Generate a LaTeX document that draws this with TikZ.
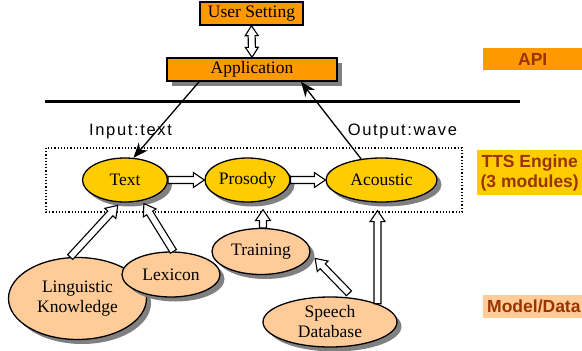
\documentclass[tikz,border=0pt]{standalone}
\usepackage{fontspec}
\setmainfont{Liberation Serif}
\setsansfont{Liberation Sans}
\newfontfamily\widesans[LetterSpace=10]{Liberation Sans}
\usetikzlibrary{calc,shapes.geometric,shadows,arrows.meta}
\definecolor{orng}{HTML}{FF9900}
\definecolor{yelw}{HTML}{FFCC00}
\definecolor{peach}{HTML}{FFCC99}
\definecolor{brwn}{HTML}{993300}
% hollow block arrow from #1 to #2
\newcommand\blockarrow[2]{%
  \draw[barrow] let \p1=(#1), \p2=(#2), \n1={atan2(\y2-\y1,\x2-\x1)} in
    ($(\p1)+(\n1+90:3.5pt)$) --
    ($(\p2)+(\n1:-11pt)+(\n1+90:3.5pt)$) --
    ($(\p2)+(\n1:-11pt)+(\n1+90:7.5pt)$) --
    (\p2) --
    ($(\p2)+(\n1:-11pt)+(\n1-90:7.5pt)$) --
    ($(\p2)+(\n1:-11pt)+(\n1-90:3.5pt)$) --
    ($(\p1)+(\n1-90:3.5pt)$) -- cycle;}
% double-headed hollow block arrow
\newcommand\dblockarrow[2]{%
  \draw[barrow] let \p1=(#1), \p2=(#2), \n1={atan2(\y2-\y1,\x2-\x1)} in
    (\p1) --
    ($(\p1)+(\n1:10pt)+(\n1+90:6.5pt)$) --
    ($(\p1)+(\n1:10pt)+(\n1+90:3.5pt)$) --
    ($(\p2)+(\n1:-10pt)+(\n1+90:3.5pt)$) --
    ($(\p2)+(\n1:-10pt)+(\n1+90:6.5pt)$) --
    (\p2) --
    ($(\p2)+(\n1:-10pt)+(\n1-90:6.5pt)$) --
    ($(\p2)+(\n1:-10pt)+(\n1-90:3.5pt)$) --
    ($(\p1)+(\n1:10pt)+(\n1-90:3.5pt)$) --
    ($(\p1)+(\n1:10pt)+(\n1-90:6.5pt)$) -- cycle;}
\tikzset{
  shadowed/.style={drop shadow={shadow xshift=4.5pt, shadow yshift=-4.5pt, fill=black!50, opacity=1}},
  serif17/.style={font=\fontsize{17.5}{20}\selectfont},
  box/.style={rectangle, draw, line width=1.4pt, fill=orng, inner sep=0pt, serif17},
  ell/.style={ellipse, draw, line width=1.3pt, inner sep=0pt, shadowed, serif17, align=center},
  core/.style={ell, fill=yelw},
  model/.style={ell, fill=peach},
  barrow/.style={draw=black, fill=white, line width=1.1pt, line join=miter},
  arr/.style={line width=1.3pt, -{Stealth[length=15pt,width=12pt]}},
  lab/.style={text=brwn, font=\sffamily\bfseries\fontsize{17.5}{20}\selectfont, align=center, inner sep=0pt},
  io/.style={font=\widesans\fontsize{16.5}{19}\selectfont, anchor=base}
}
\begin{document}
\begin{tikzpicture}[x=1pt,y=-1pt]
\useasboundingbox (0,0) rectangle (582,351);

% API layer
\node[box, minimum width=103, minimum height=23] (us) at (251.5,13.5) {User Setting};
\node[box, shadowed, minimum width=170, minimum height=23] (app) at (252,69.5) {Application};
\dblockarrow{us.south}{app.north}

% separator
\draw[line width=3pt] (45,101.5) -- (520,101.5);

% TTS engine
\draw[dotted, line width=1.2pt] (46,148) rectangle (462,212);
\node[core, minimum width=85, minimum height=44] (text) at (125,180) {Text};
\node[core, minimum width=85, minimum height=44] (prosody) at (247.5,180) {Prosody};
\node[core, minimum width=111, minimum height=44] (acoustic) at (381.5,180) {Acoustic};
\blockarrow{text.east}{prosody.west}
\blockarrow{prosody.east}{acoustic.west}

\node[io] (in) at (130.5,135) {Input:text};
\node[io] (out) at (402.5,135) {Output:wave};

\draw[arr] (app.193) -- (text.69);
\draw[arr] (acoustic.134) -- (app.346);

% models / data
\node[model, minimum width=138, minimum height=82] (lk) at (77.5,298.5) {Linguistic\\Knowledge};
\node[model, minimum width=98, minimum height=45] (lex) at (171,274.5) {Lexicon};
\node[model, minimum width=98, minimum height=46] (train) at (261,251.5) {Training};
\node[model, minimum width=134, minimum height=50] (sd) at (330,322) {Speech\\Database};

\coordinate (tp) at ($(train.north)+(2,0)$);
\blockarrow{lk.100}{$(text.252)+(0,3)$}
\blockarrow{lex.84}{$(text.311)+(1,3)$}
\blockarrow{tp}{$(tp |- prosody.south)+(0,7)$}
\blockarrow{sd.21}{$(sd.21 |- acoustic.south)+(0,8)$}
\blockarrow{$(sd.54)+(1,-4)$}{$(train.-7)+(6,1)$}

% right-hand labels
\node[lab, fill=orng, minimum width=99, minimum height=22, anchor=north west] (api) at (483,48) {API};
\node[lab, fill=yelw, minimum width=105, minimum height=45, anchor=north west] (tts) at (477,150) {TTS Engine\\(3 modules)};
\node[lab, fill=peach, minimum height=23, inner xsep=4pt, anchor=west] (md) at (483,306.5) {Model/Data};
\end{tikzpicture}
\end{document}
